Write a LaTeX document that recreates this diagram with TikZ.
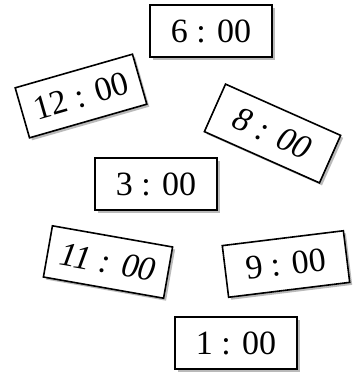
\documentclass[tikz,border=0pt]{standalone}
\usepackage{fontspec}
\setmainfont{Liberation Serif}
\usetikzlibrary{shadows}
\tikzset{
  card/.style={draw=black, line width=1.6pt, fill=white, minimum width=122pt, minimum height=52pt,
    inner sep=0pt, font=\fontsize{34}{34}\selectfont,
    drop shadow={shadow xshift=2.5pt, shadow yshift=-2.5pt, opacity=0.45, fill=black!60}},
}
\begin{document}
\begin{tikzpicture}[x=1pt,y=-1pt]
\path[use as bounding box, fill=white] (0,0) rectangle (362,376);
\node[card] (six) at (211,31) {6 : 00};
\node[card, rotate=16] (twelve) at (81,96) {12 : 00};
\node[card, rotate=-24, minimum width=126pt] (eight) at (272.5,133.5) {\itshape 8 : 00};
\node[card] (three) at (156,184) {3 : 00};
\node[card, rotate=-10] (eleven) at (108,262) {\itshape 11 : 00};
\node[card, rotate=7] (nine) at (286,264) {9 : 00};
\node[card] (one) at (236,343) {1 : 00};
\end{tikzpicture}
\end{document}
